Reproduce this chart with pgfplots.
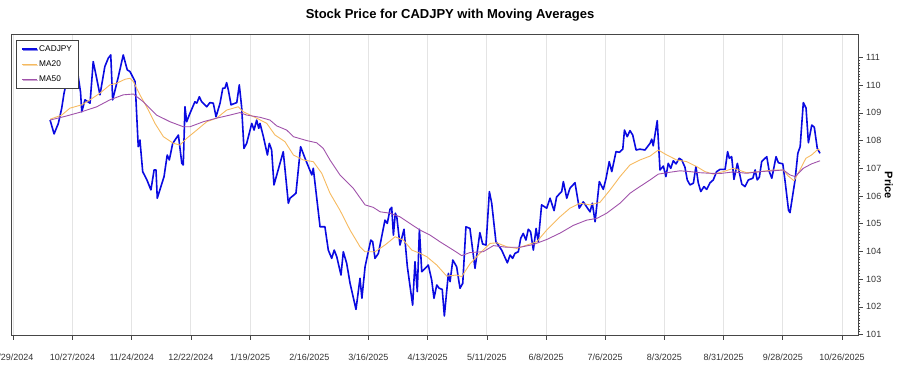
\documentclass[border=0pt]{standalone}
\usepackage{fontspec}
\setmainfont{Liberation Sans}
\usepackage{pgfplots}
\usepackage{pgfplotstable}
\usetikzlibrary{shadows}
\pgfplotsset{compat=1.18}
\definecolor{cad}{RGB}{10,10,225}
\definecolor{maA}{RGB}{246,186,95}
\definecolor{maB}{RGB}{160,82,170}
\definecolor{axc}{RGB}{70,70,70}
\definecolor{gridc}{RGB}{228,228,228}

\pgfplotstableread{
d p
17.4 108.74
19.3 108.24
21.3 108.62
22.9 109.17
24.0 109.71
25.4 110.19
26.8 110.48
28.7 110.00
30.6 110.37
31.8 109.75
32.4 109.04
33.9 109.47
36.3 109.35
37.8 110.85
39.1 110.37
41.0 109.65
43.3 110.67
44.9 110.97
46.1 111.09
47.0 109.47
49.7 110.31
52.0 111.09
53.9 110.55
55.2 110.49
57.6 110.13
59.1 107.78
59.9 108.02
61.2 106.88
63.2 106.58
65.1 106.22
66.6 106.94
67.5 106.94
68.1 105.92
71.3 106.70
72.8 107.48
73.8 107.30
75.4 107.90
78.1 108.20
79.7 107.18
80.4 107.12
81.2 109.22
82.0 108.68
83.6 108.99
85.9 109.40
86.8 109.35
88.0 109.58
89.1 109.40
91.5 109.22
93.0 109.37
94.6 109.35
95.9 108.86
97.8 109.35
99.1 109.89
100.1 109.89
100.9 110.09
101.7 109.83
103.0 109.29
105.7 109.37
106.9 110.01
108.0 109.22
109.1 107.72
110.4 107.90
112.8 108.62
113.9 108.38
115.1 108.74
116.1 108.44
116.7 108.62
118.3 108.14
120.2 107.48
121.1 107.90
122.2 107.66
123.3 106.40
127.7 107.60
130.1 105.74
130.9 105.92
133.7 106.10
135.9 107.78
138.0 107.36
141.2 106.76
141.9 107.00
145.1 104.89
147.4 104.89
149.0 104.05
150.6 103.75
151.8 104.05
153.0 103.81
155.0 103.15
156.1 103.99
157.7 103.57
159.3 102.85
162.1 101.91
164.0 103.03
164.9 102.31
166.4 103.45
169.1 104.41
170.0 104.35
171.1 103.75
172.7 103.93
175.8 105.13
176.9 105.01
178.2 105.52
179.0 105.59
179.8 104.59
180.7 105.38
181.4 105.25
182.9 104.23
184.8 104.80
186.4 103.45
188.9 102.06
190.0 103.63
191.1 102.55
192.1 104.80
193.2 103.27
195.6 103.45
196.3 103.51
197.9 102.97
199.0 102.31
200.3 102.79
201.5 102.67
202.9 102.63
203.9 101.67
205.8 103.21
206.6 102.91
207.9 103.69
209.7 103.45
211.3 102.67
212.6 102.85
214.1 104.89
216.0 104.83
218.4 103.39
220.7 104.68
222.0 104.27
223.6 104.23
225.2 106.16
226.3 105.74
228.3 104.35
231.0 104.05
233.7 103.59
235.0 103.87
236.2 103.75
237.3 103.93
238.9 103.99
240.0 104.47
241.2 104.65
242.5 104.41
243.6 104.80
244.7 104.71
246.0 104.05
247.3 104.83
248.3 104.35
249.9 105.68
252.3 105.56
253.9 105.92
255.8 105.47
257.0 105.97
259.4 106.16
260.2 106.52
261.8 105.92
263.3 106.28
265.7 106.48
267.7 105.56
269.6 105.79
272.8 105.43
273.9 105.74
275.2 105.07
277.2 106.52
279.1 106.24
280.4 106.64
281.9 107.24
283.1 106.88
285.1 107.60
286.7 107.58
288.3 107.69
289.1 108.38
290.4 108.14
291.7 108.36
293.0 108.20
294.6 107.66
296.4 107.69
298.8 107.66
301.2 107.90
302.0 108.05
302.7 107.81
304.6 108.72
305.9 106.94
307.5 107.08
308.7 106.70
309.8 107.18
311.0 107.00
312.2 107.27
313.5 107.16
315.0 107.36
316.2 107.30
317.7 107.04
318.8 106.58
320.1 106.40
321.7 106.46
322.9 107.06
324.0 106.48
325.2 106.16
326.7 106.34
328.0 106.24
329.6 106.48
331.1 106.58
332.7 106.88
334.3 106.96
336.7 106.96
337.9 107.60
338.7 107.36
339.8 107.42
340.9 106.60
342.5 107.18
344.6 106.43
346.1 106.34
347.7 106.58
349.8 106.64
350.9 106.94
351.9 106.58
352.9 106.68
354.0 107.24
356.4 107.42
357.6 106.88
358.8 106.64
360.8 107.42
361.9 107.20
364.0 107.16
365.1 106.52
366.7 105.49
367.4 105.40
369.8 106.58
371.1 107.54
372.2 107.78
373.7 109.37
375.0 109.17
376.1 107.92
377.7 108.56
378.9 108.48
380.3 107.72
381.6 107.54
}\cadjpy

\pgfplotstableread{
d p
17.4 108.77
22.9 108.92
26.8 109.17
32.4 109.29
36.3 109.47
41.0 109.71
45.7 110.01
48.9 110.07
52.8 110.21
55.2 110.25
56.8 110.13
59.9 109.65
63.9 109.10
67.0 108.62
71.0 108.14
75.7 107.90
78.9 107.84
82.0 108.08
86.8 108.38
91.5 108.68
96.2 108.81
100.9 109.10
106.4 109.22
108.8 109.04
115.1 108.81
119.9 108.62
123.8 108.20
128.5 107.96
132.5 107.48
137.2 107.30
141.9 107.24
145.9 106.82
149.8 106.10
154.5 105.49
159.3 104.77
164.0 104.17
166.4 103.99
171.1 103.99
175.8 104.23
180.6 104.53
184.5 104.41
188.5 104.05
192.4 103.93
195.6 103.81
200.3 103.51
205.0 103.11
209.7 103.15
212.1 103.09
216.0 103.55
220.7 103.93
225.5 104.29
228.7 104.31
233.4 104.17
238.1 104.11
242.9 104.23
247.6 104.35
252.3 104.77
258.6 105.25
263.3 105.56
268.1 105.74
272.8 105.68
277.5 105.77
282.3 106.22
287.0 106.70
291.7 107.12
296.4 107.30
301.2 107.44
305.1 107.66
309.1 107.48
313.8 107.30
318.5 107.24
323.3 107.06
327.2 106.88
331.1 106.79
335.9 106.88
340.6 107.00
346.9 106.84
353.2 106.88
359.5 106.94
364.2 106.94
366.6 106.72
369.3 106.55
372.1 106.94
374.9 107.36
377.6 107.48
380.7 107.69
381.6 107.64
}\maA

\pgfplotstableread{
d p
17.4 108.74
25.3 108.89
32.4 109.04
39.5 109.22
45.7 109.47
52.0 109.65
56.8 109.68
61.5 109.40
67.8 108.92
74.1 108.68
80.4 108.50
83.6 108.50
89.9 108.68
96.2 108.81
102.5 108.92
107.2 109.01
110.4 108.92
116.7 108.84
121.4 108.74
124.6 108.53
129.3 108.38
132.5 108.14
138.8 108.00
143.5 107.92
146.6 107.72
149.8 107.30
154.5 106.76
160.8 106.28
166.4 105.68
170.3 105.59
173.5 105.43
178.2 105.38
182.9 105.25
187.6 105.01
192.4 104.77
197.1 104.59
201.8 104.35
208.1 104.05
212.1 103.85
216.0 103.96
222.3 103.99
227.1 104.21
233.4 104.15
239.7 104.15
246.0 104.25
252.3 104.43
258.6 104.66
264.9 104.94
271.2 105.13
276.0 105.19
280.7 105.38
287.0 105.74
291.7 106.10
296.4 106.34
301.2 106.58
305.1 106.79
309.1 106.84
315.4 106.91
320.1 106.88
324.8 106.84
329.6 106.82
334.3 106.81
340.6 106.87
346.9 106.82
353.2 106.88
359.5 106.91
364.2 106.94
367.4 106.76
369.8 106.70
373.7 107.00
377.6 107.16
381.6 107.27
}\maB

\begin{document}
\begin{tikzpicture}
\useasboundingbox (-11.7pt,-39.3pt) rectangle (888.3pt,335.7pt);
\begin{axis}[
  at={(0pt,0pt)}, anchor=south west,
  scale only axis, width=847pt, height=301pt,
  xmin=-0.76, xmax=399.9, ymin=100.96, ymax=111.82,
  xtick={0,28,...,392},
  xticklabels={9/29/2024,10/27/2024,11/24/2024,12/22/2024,1/19/2025,2/16/2025,3/16/2025,4/13/2025,5/11/2025,6/8/2025,7/6/2025,8/3/2025,8/31/2025,9/28/2025,10/26/2025},
  ytick={101,...,111},
  minor y tick num=9,
  xtick pos=bottom, ytick pos=right, yticklabel pos=right,
  tick align=outside,
  major tick length=4pt, minor tick length=1.5pt,
  xmajorgrids, grid style={gridc, line width=0.8pt},
  axis line style={axc, line width=0.9pt},
  every tick/.style={axc, line width=0.7pt},
  tick label style={font=\fontsize{9}{10}\selectfont, text=black!80},
  /pgf/number format/assume math mode=true,
  xticklabel style={yshift=-11pt},
  ylabel={Price},
  every axis y label/.style={at={([xshift=30pt]axis description cs:1,0.5)}, anchor=center, rotate=-90, font=\bfseries\fontsize{11}{13}\selectfont},
  legend style={at={(axis description cs:0.005,0.982)}, anchor=north west, draw=black!75, fill=white, drop shadow={shadow xshift=1pt, shadow yshift=-1pt, fill=black!45}, font=\fontsize{8.3}{10}\selectfont, inner xsep=5pt, inner ysep=3.5pt, row sep=5pt, nodes={inner sep=1.5pt}},
  legend cell align=left,
  legend image code/.code={\draw[#1] (0pt,0pt) -- (15pt,0pt);},
]
\addplot[cad, line width=1.6pt, line join=round] table[x=d,y=p] {\cadjpy};
\addlegendentry{CADJPY}
\addplot[maA, line width=0.9pt, line join=round] table[x=d,y=p] {\maA};
\addlegendentry{MA20}
\addplot[maB, line width=0.9pt, line join=round] table[x=d,y=p] {\maB};
\addlegendentry{MA50}
\end{axis}
\node[font=\bfseries\fontsize{13}{15}\selectfont] at (438.3pt,320.5pt) {Stock Price for CADJPY with Moving Averages};
\end{tikzpicture}
\end{document}
